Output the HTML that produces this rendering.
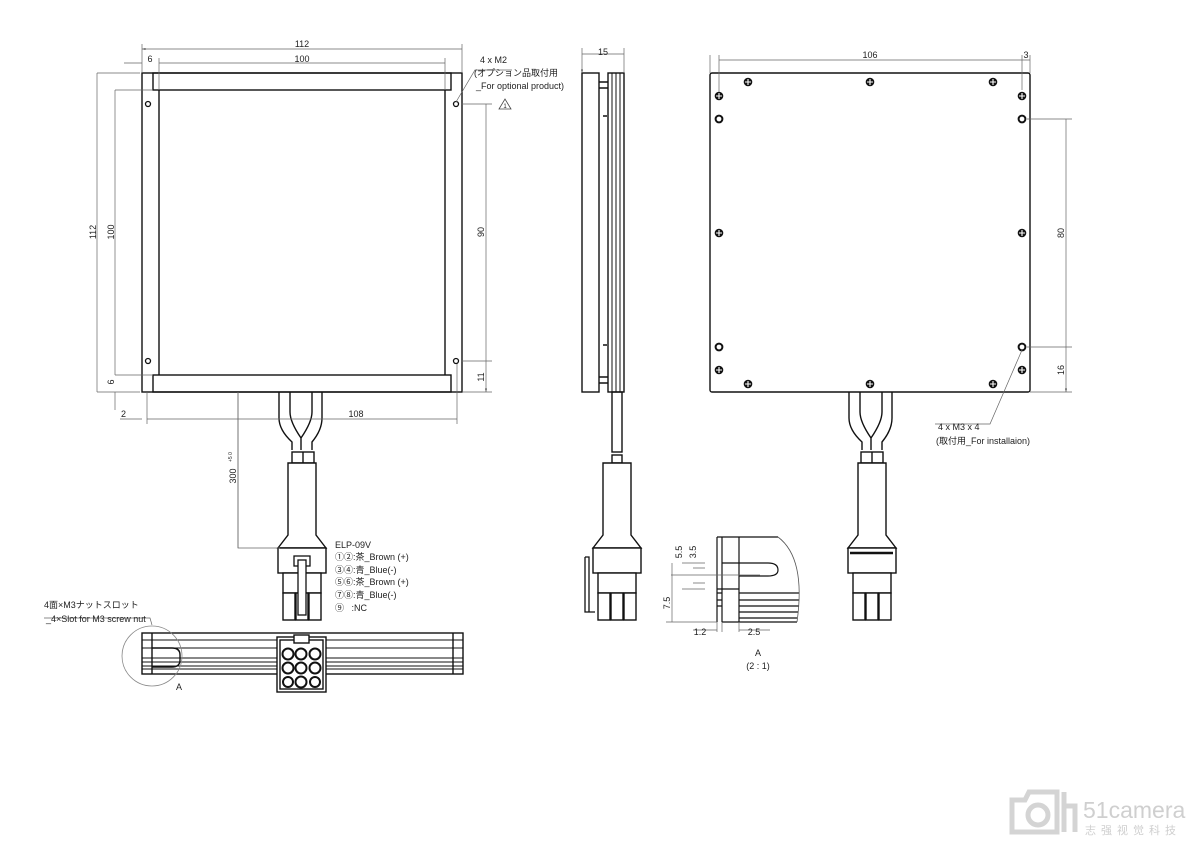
<!DOCTYPE html>
<html><head><meta charset="utf-8"><style>
html,body{margin:0;padding:0;background:#fff;}
svg{display:block;}
text{font-family:"Liberation Sans","Noto Sans CJK JP",sans-serif;fill:#222;}
</style></head><body>
<svg width="1200" height="848" viewBox="0 0 1200 848" xmlns="http://www.w3.org/2000/svg">
<defs>
<marker id="a" viewBox="0 0 10 6" refX="10" refY="3" markerWidth="8" markerHeight="3" orient="auto-start-reverse"><path d="M0,0L10,3L0,6z" fill="#555"/></marker>
<g id="scr"><circle r="4.3" fill="#111"/><path d="M-3,0H3M0,-3V3" stroke="#fff" stroke-width="1.1"/></g>
<g id="hol"><circle r="3.4" fill="none" stroke="#111" stroke-width="2"/></g>
<g id="plug" fill="#fff" stroke="#111" stroke-width="1.4">
<path d="M-14,0H14V72L24,85H-24L-14,72Z"/>
<rect x="-24" y="85" width="48" height="25"/>
<rect x="-19" y="110" width="38" height="20"/>
<rect x="-19" y="130" width="12" height="27"/><rect x="-6" y="130" width="12" height="27"/><rect x="7" y="130" width="12" height="27"/>
</g>
</defs>
<g fill="none" stroke="#111" stroke-width="1.4">
<rect x="142" y="73" width="320" height="319"/>
<rect x="153" y="73" width="298" height="17"/>
<rect x="153" y="375" width="298" height="17"/>
<path d="M159,90V375M445,90V375"/>
<path d="M279,392V418Q279,430 292,442V450M322,392V418Q322,430 312,442V450M290,392V412Q290,422 301,438Q312,422 312,412V392M301,438V450"/>
<rect x="292" y="452" width="22" height="11"/><path d="M303,452V463"/>
<rect x="582" y="73" width="17" height="319"/>
<path d="M599,82H608M599,88H608M599,377H608M599,383H608"/>
<rect x="608" y="73" width="16" height="319"/>
<path d="M612,73V392M616,73V392M620,73V392" stroke-width="1"/>
<path d="M603,116H607M603,345H607"/>
<rect x="612" y="392" width="10" height="60"/>
<rect x="612" y="455" width="10" height="8"/>
<rect x="710" y="73" width="320" height="319" rx="2"/>
<path d="M849,392V418Q849,430 862,442V450M892,392V418Q892,430 882,442V450M860,392V412Q860,422 871,438Q882,422 882,412V392M871,438V450"/>
<rect x="861" y="452" width="22" height="11"/><path d="M872,452V463"/>
<rect x="142" y="633" width="321" height="41"/>
<path d="M142,640H463M142,648H463M142,658H463M142,662H463M142,666H463M142,669H463" stroke-width="1"/>
<path d="M152,633V674M453,633V674"/>
<path d="M152,648H172Q180,648 180,655V660Q180,667 172,667H152"/>
<circle cx="152" cy="656" r="30" stroke="#888" stroke-width="0.8"/>
<rect x="277" y="637" width="49" height="55" fill="#fff"/>
<rect x="280" y="640" width="43" height="49"/>
<rect x="294" y="635" width="15" height="8" fill="#fff"/>
<g stroke-width="2"><circle cx="288" cy="654" r="5.5"/><circle cx="301" cy="654" r="5.5"/><circle cx="315" cy="654" r="5.5"/><circle cx="288" cy="668" r="5.5"/><circle cx="301" cy="668" r="5.5"/><circle cx="315" cy="668" r="5.5"/><circle cx="288" cy="682" r="5"/><circle cx="301" cy="682" r="5.5"/><circle cx="315" cy="682" r="5"/></g>
<path d="M717,537H778M717,537V622M722,537V622M739,537V622M722,563H739M717,589H739M739,563H768Q778,563 778,570Q778,576 768,576H739M739,593H799M739,600H799M739,606H799M739,612H798M739,618H797M722,622H797M717,593H722M717,600H722M717,606H722" stroke-width="1.2"/>
<path d="M778,537Q806,558 797,622" stroke="#555" stroke-width="0.8"/>
</g>
<use href="#plug" x="302" y="463"/>
<use href="#plug" x="617" y="463"/>
<use href="#plug" x="872" y="463"/>
<g fill="none" stroke="#111" stroke-width="1.3">
<rect x="294" y="556" width="16" height="10" fill="#fff"/><rect x="298" y="560" width="8" height="55" fill="#fff"/>
<path d="M585,557H589V612H595M585,557V612H589"/>
<path d="M850,553H893" stroke-width="2.5"/>
</g>
<g fill="#fff" stroke="#111" stroke-width="1.3"><circle cx="148" cy="104" r="2.5"/><circle cx="456" cy="104" r="2.5"/><circle cx="148" cy="361" r="2.5"/><circle cx="456" cy="361" r="2.5"/></g>
<use href="#scr" x="748" y="82"/><use href="#scr" x="870" y="82"/><use href="#scr" x="993" y="82"/>
<use href="#scr" x="719" y="96"/><use href="#scr" x="1022" y="96"/>
<use href="#scr" x="719" y="233"/><use href="#scr" x="1022" y="233"/>
<use href="#scr" x="719" y="370"/><use href="#scr" x="1022" y="370"/>
<use href="#scr" x="748" y="384"/><use href="#scr" x="870" y="384"/><use href="#scr" x="993" y="384"/>
<use href="#hol" x="719" y="119"/><use href="#hol" x="1022" y="119"/><use href="#hol" x="719" y="347"/><use href="#hol" x="1022" y="347"/>
<g stroke="#666" stroke-width="0.7" fill="none">
<path d="M142,73V44M462,73V44M159,90V58M445,90V58M97,73H140M97,392H140M115,90H153M115,375H153M147,392V424M457,364V424M238,392V548H280M461,104H492M461,361H492M462,392H492"/>
<path d="M142,49H462M159,63H445M142,63H124M97,73V392M115,90V375M115,392V410M147,419H457M142,419H120M238,392V548M486,104V361M486,361V392" marker-end="url(#a)" marker-start="url(#a)"/>
<path d="M582,73V48M624,73V48M582,54H624M710,73V55M1022,90V55M1030,73V55M719,92V55M719,60H1022M1022,60H1030M1027,119H1072M1027,347H1072M1030,392H1072M1066,119V347M1066,347V392" marker-end="url(#a)" marker-start="url(#a)"/>
<path d="M456,102L475,70H512M1022,350L990,424H935M152,625L150,618H44M682,563H705M682,589H705M693,568H705M693,583H705M671,575H760M666,622H717M672,563V622M717,622V632M722,622V632M739,622V632M693,630H717M739,630H770"/>
</g>
<path d="M511,109L505,99L499,109Z" fill="none" stroke="#444" stroke-width="0.8"/>
<text x="505" y="108" font-size="6" text-anchor="middle">1</text>
<g font-size="9">
<text x="302" y="47" text-anchor="middle">112</text>
<text x="150" y="62" text-anchor="middle">6</text>
<text x="302" y="62" text-anchor="middle">100</text>
<text x="480" y="63">4 x M2</text>
<text x="474" y="76">(オプション品取付用</text>
<text x="476" y="89">_For optional product)</text>
<text x="121" y="417">2</text>
<text x="356" y="417" text-anchor="middle">108</text>
<text transform="translate(96,232) rotate(-90)" text-anchor="middle">112</text>
<text transform="translate(114,232) rotate(-90)" text-anchor="middle">100</text>
<text transform="translate(114,382) rotate(-90)" text-anchor="middle">6</text>
<text transform="translate(484,232) rotate(-90)" text-anchor="middle">90</text>
<text transform="translate(484,377) rotate(-90)" text-anchor="middle">11</text>
<text transform="translate(236,476) rotate(-90)" text-anchor="middle">300</text>
<text transform="translate(232,462) rotate(-90)" font-size="5">+5 0</text>
<text x="603" y="55" text-anchor="middle">15</text>
<text x="870" y="58" text-anchor="middle">106</text>
<text x="1026" y="58" text-anchor="middle">3</text>
<text transform="translate(1064,233) rotate(-90)" text-anchor="middle">80</text>
<text transform="translate(1064,370) rotate(-90)" text-anchor="middle">16</text>
<text x="938" y="430">4 x M3 x 4</text>
<text x="936" y="444">(取付用_For installaion)</text>
<text x="335" y="548">ELP-09V</text>
<text x="335" y="560">①②:茶_Brown (+)</text>
<text x="335" y="573">③④:青_Blue(-)</text>
<text x="335" y="585">⑤⑥:茶_Brown (+)</text>
<text x="335" y="598">⑦⑧:青_Blue(-)</text>
<text x="335" y="611">⑨&#160;&#160;&#160;:NC</text>
<text x="44" y="608">4面×M3ナットスロット</text>
<text x="46" y="622">_4×Slot for M3 screw nut</text>
<text x="176" y="690">A</text>
<text transform="translate(682,552) rotate(-90)" text-anchor="middle">5.5</text>
<text transform="translate(696,552) rotate(-90)" text-anchor="middle">3.5</text>
<text transform="translate(670,603) rotate(-90)" text-anchor="middle">7.5</text>
<text x="700" y="635" text-anchor="middle">1.2</text>
<text x="754" y="635" text-anchor="middle">2.5</text>
<text x="758" y="656" text-anchor="middle">A</text>
<text x="758" y="669" text-anchor="middle">(2 : 1)</text>
</g>
<g fill="none" stroke="#d4d4d4" stroke-width="5">
<path d="M1012,800H1025L1029,792H1057V832H1012Z"/>
<circle cx="1038" cy="815" r="10"/>
<path d="M1064,792V832M1064,806H1075V832"/>
</g>
<text x="1083" y="818" font-size="23" style="fill:#cfcfcf">51camera</text>
<text x="1085" y="834" font-size="11" letter-spacing="5" style="fill:#cfcfcf">志强视觉科技</text>
</svg>
</body></html>
